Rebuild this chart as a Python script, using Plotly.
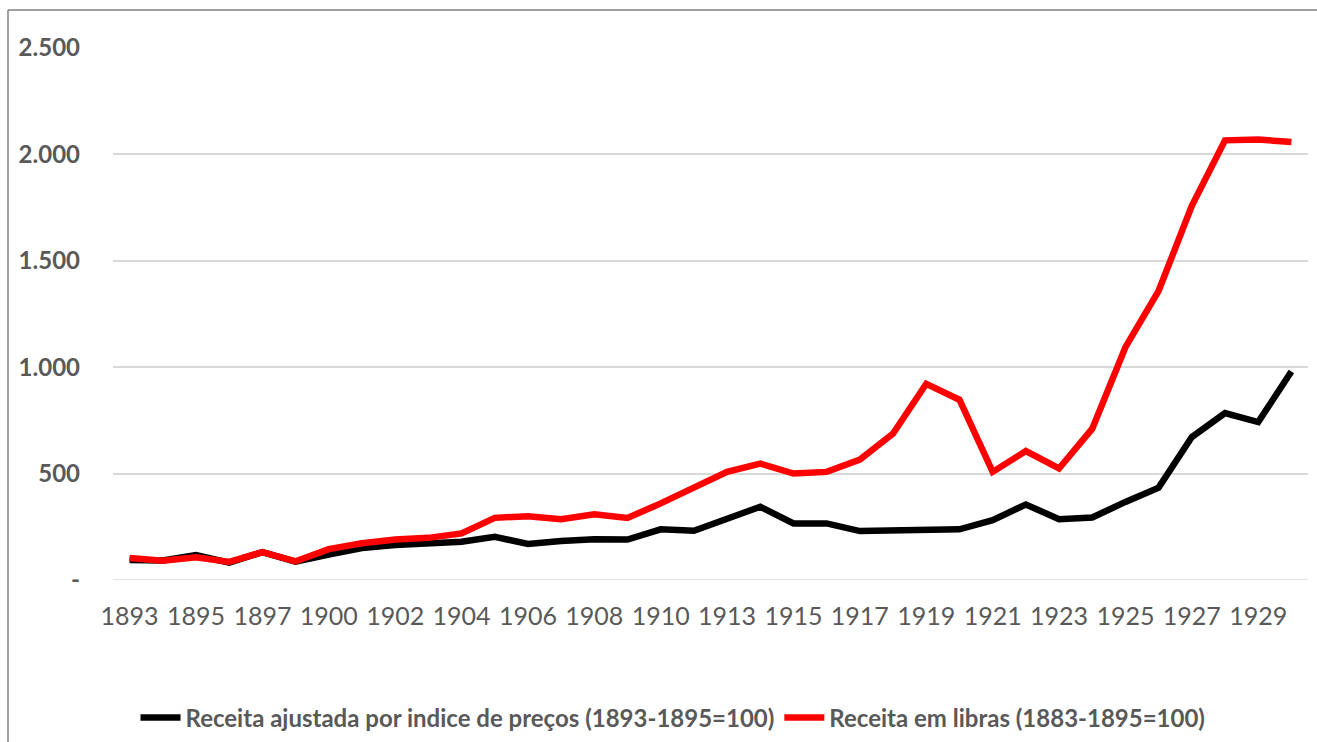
import plotly.graph_objects as go

years = [1893, 1894, 1895, 1896, 1897, 1899, 1900, 1901, 1902, 1903, 1904, 1905,
         1906, 1907, 1908, 1909, 1910, 1912, 1913, 1914, 1915, 1916, 1917, 1918,
         1919, 1920, 1921, 1922, 1923, 1924, 1925, 1926, 1927, 1928, 1929, 1930]

receita_ajustada = [94, 92, 117, 82, 131, 86, 120, 150, 164, 172, 180, 203,
                    169, 183, 192, 190, 238, 231, 284, 344, 266, 266, 230, 231,
                    234, 238, 281, 355, 286, 294, 367, 434, 672, 784, 742, 980]

receita_libras = [103, 90, 107, 85, 131, 88, 145, 173, 190, 198, 219, 292,
                  300, 286, 309, 292, 360, 430, 508, 547, 500, 508, 566, 688,
                  922, 847, 508, 606, 524, 711, 1094, 1359, 1758, 2066, 2070, 2058]

y_tickvals = [0, 500, 1000, 1500, 2000, 2500]
y_ticktext = ["-", "500", "1.000", "1.500", "2.000", "2.500"]

name_ajustada = "Receita ajustada por indice de preços (1893-1895=100)"
name_libras = "Receita em libras (1883-1895=100)"

cats = [str(y) for y in years]
x_tickvals = cats[::2]

FONT = "Lato"
GREY = "#595959"

fig = go.Figure()
fig.add_trace(go.Scatter(x=cats, y=receita_ajustada, mode="lines",
                         name=name_ajustada,
                         line=dict(color="#000000", width=6.5)))
fig.add_trace(go.Scatter(x=cats, y=receita_libras, mode="lines",
                         name=name_libras,
                         line=dict(color="#ff0000", width=6.5)))

W, H = 1317, 742
L, R, T, B = 113, 9, 48, 162
pw, ph = W - L - R, H - T - B
base = H - B  # y pixel of the plot bottom

fig.update_layout(
    width=W, height=H,
    margin=dict(l=L, r=R, t=T, b=B, autoexpand=False),
    paper_bgcolor="white", plot_bgcolor="white",
    font=dict(family=FONT, color=GREY),
    showlegend=True,
    legend=dict(orientation="h", x=(673 - L) / pw, xanchor="center",
                y=(base - 718) / ph, yanchor="middle",
                font=dict(family=FONT, size=24, color=GREY, weight="bold"),
                itemwidth=40, tracegroupgap=0, bgcolor="rgba(0,0,0,0)"),
    xaxis=dict(type="category", range=[-0.5, len(cats) - 0.5],
               tickmode="array", tickvals=x_tickvals, ticktext=x_tickvals,
               showgrid=False, showline=False, zeroline=False, ticks="",
               tickfont=dict(family=FONT, size=25, color=GREY),
               ticklabelstandoff=19, automargin=False),
    yaxis=dict(range=[0, 2500], tickmode="array", tickvals=y_tickvals,
               ticktext=y_ticktext, showgrid=True, gridcolor="#d9d9d9",
               gridwidth=1.5, zeroline=False, showline=False, ticks="",
               tickfont=dict(family=FONT, size=24, color=GREY, weight="bold"),
               ticklabelstandoff=32, automargin=False),
)

# baseline gridline at zero (Plotly omits the gridline on the range edge)
fig.add_hline(y=0, line=dict(color="#d9d9d9", width=1.5), layer="below")

# chart frame (top and left edges visible)
bx = (8 - L) / pw
by = (base - 10) / ph
fig.add_shape(type="line", xref="paper", yref="paper",
              x0=bx, x1=(W - L) / pw, y0=by, y1=by,
              line=dict(color="#808080", width=1.5), layer="below")
fig.add_shape(type="line", xref="paper", yref="paper",
              x0=bx, x1=bx, y0=by, y1=-B / ph,
              line=dict(color="#808080", width=1.5), layer="below")

fig.write_html(
    "out.html",
    config={"displayModeBar": False},
    post_script="document.body.style.margin='0';",
)
